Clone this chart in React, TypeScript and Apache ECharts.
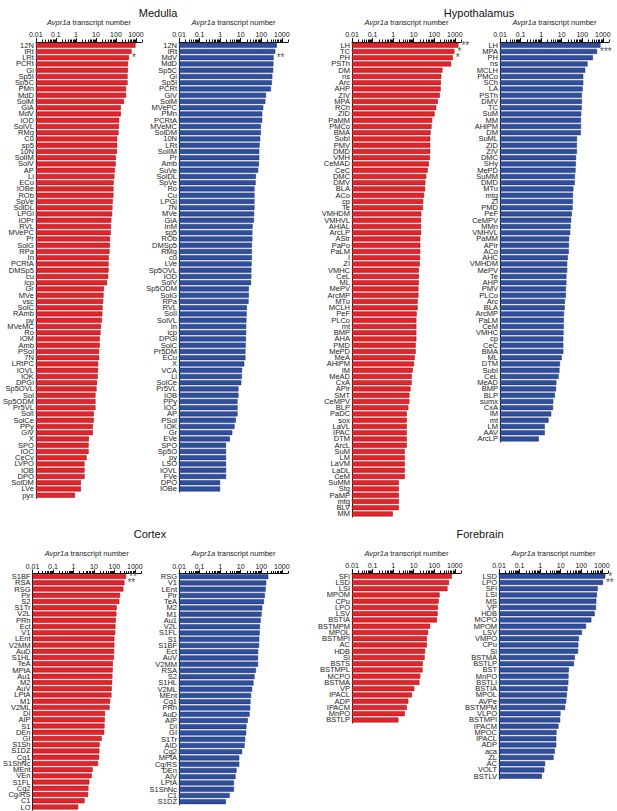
import React, { useEffect, useRef } from 'react';
import * as echarts from 'echarts';

// ---- Medulla ----
const medullaRedLabels = ['12N', 'IRt', 'LRt', 'PCRt', 'Gi', 'Sp5I', 'Sp5C', 'PMn', 'MdD', 'SolM', 'GiA', 'MdV', 'IOD', 'SolVL', 'RMg', 'Cu', 'sp5', '10N', 'SolIM', 'SolV', 'AP', 'Li', 'ECu', 'IOBe', 'ROb', 'SpVe', 'SolDL', 'LPGi', 'IOPr', 'RVL', 'MVePC', 'Pr', 'SolG', 'RPa', 'In', 'PCRtA', 'DMSp5', 'cu', 'icp', 'Gr', 'MVe', 'vsc', 'SolC', 'RAmb', 'py', 'MVeMC', 'Ro', 'IOM', 'Amb', 'PSol', '7N', 'LRtPC', 'IOVL', 'IOK', 'DPGi', 'Sp5OVL', 'Sol', 'Sp5ODM', 'Pr5VL', 'SolI', 'SolCe', 'PPy', 'GiV', 'X', 'SPO', 'IOC', 'CeCv', 'LVPO', 'IOB', 'DPO', 'SolDM', 'LVe', 'pyx'];
const medullaRedValues = [950, 600, 450, 400, 400, 380, 380, 320, 320, 254, 175, 175, 145, 140, 135, 116, 116, 113, 100, 97, 89, 84, 77, 75, 75, 69, 67, 65, 59, 57, 55, 51, 50, 48, 44, 43, 43, 41, 36, 25, 24, 23, 21.5, 21, 20, 18, 17, 15.5, 15.5, 14.5, 14.5, 13, 12.7, 12.3, 11.4, 10.8, 9.5, 9.5, 9.5, 7.8, 7.8, 7, 7, 4.5, 4.3, 4.3, 3.4, 2.7, 2.7, 2.7, 1.8, 1.8, 0.9];
const medullaRedStars: [string, string][] = [['LRt', '*']];

const medullaBlueLabels = ['12N', 'IRt', 'MdV', 'MdD', 'Sp5C', 'Gi', 'Sp5I', 'PCRt', 'GiV', 'SolM', 'MVePC', 'PMn', 'PCRtA', 'MVeMC', 'SolDM', '10N', 'LRt', 'SolIM', 'Pr', 'Amb', 'SuVe', 'SolDL', 'SpVe', 'Ro', 'Cu', 'LPGi', '7N', 'MVe', 'GiA', 'InM', 'sp5', 'ROb', 'DMSp5', 'RMg', 'cu', 'LVe', 'Sp5OVL', 'IOD', 'SolV', 'Sp5ODM', 'SolG', 'RPa', 'RVL', 'SolI', 'SolVL', 'In', 'icp', 'DPGi', 'SolC', 'Pr5DM', 'ECu', 'X', 'VCA', 'Li', 'SolCe', 'Pr5VL', 'IOB', 'PPy', 'IOC', 'AP', 'PSol', 'IOK', 'Gr', 'EVe', 'SPO', 'Sp5O', 'py', 'LSO', 'IOVL', 'FVe', 'DPO', 'IOBe'];
const medullaBlueValues = [580, 480, 400, 390, 380, 345, 330, 295, 170, 158, 125, 112, 112, 96, 96, 89, 83, 80, 80, 78, 71, 55, 53, 47, 47, 47, 47, 45, 44, 38, 37, 37, 35, 35, 35, 34, 33, 33, 32, 25, 25, 24, 20, 19.5, 19, 18.5, 18.5, 18, 17.5, 17, 17, 15, 11.7, 11.4, 10.7, 7.8, 7.8, 7, 7, 7, 5.8, 5, 3.9, 3, 1.95, 1.95, 1.95, 1.95, 1.95, 1.95, 1.0, 1.0];
const medullaBlueStars: [string, string][] = [['MdV', '**']];

// ---- Hypothalamus ----
const hypoRedLabels = ['LH', 'TC', 'PH', 'PSTh', 'DM', 'ns', 'Arc', 'AHP', 'ZIV', 'MPA', 'RCh', 'ZID', 'PaMM', 'PMCo', 'BMA', 'SubI', 'PMV', 'DMD', 'VMH', 'CeMAD', 'CeC', 'DMC', 'DMV', 'BLA', 'ACo', 'cp', 'Te', 'VMHDM', 'VMHVL', 'AHiAL', 'ArcLP', 'AStr', 'PaPo', 'PaLM', 'I', 'ZI', 'VMHC', 'CeL', 'ML', 'MePV', 'ArcMP', 'MTu', 'MCLH', 'PeF', 'PLCo', 'mt', 'BMP', 'AHA', 'PMD', 'MePD', 'MeA', 'AHiPM', 'IM', 'MeAD', 'CxA', 'APir', 'SMT', 'CeMPV', 'BLP', 'PaDC', 'sox', 'LaVL', 'IPAC', 'DTM', 'ArcL', 'SuM', 'LM', 'LaVM', 'LaDL', 'CeM', 'SuMM', 'Stg', 'PaMP', 'mtg', 'BLV', 'MM'];
const hypoRedValues = [1500, 960, 800, 660, 250, 220, 210, 205, 187, 150, 125, 104, 80, 74, 66, 64, 64, 64, 62, 55, 48, 41, 37, 36, 32, 29, 28, 23.5, 23, 23, 23, 21, 21, 21, 20.5, 20, 18, 18, 17.6, 17, 17, 15.6, 15.6, 14, 13.5, 13.5, 13.5, 13.5, 12.5, 12.5, 11.2, 10.4, 9, 8, 8, 7, 6.2, 6.2, 5.5, 4.6, 4.6, 4.6, 4.6, 4.6, 4.6, 3.7, 3.7, 3.7, 3.7, 3.7, 1.9, 1.9, 1.9, 1.9, 1.9, 0.96];
const hypoRedStars: [string, string][] = [['LH', '**'], ['TC', '*'], ['PH', '*']];

const hypoBlueLabels = ['LH', 'MPA', 'PH', 'ns', 'MCLH', 'PMCo', 'SCh', 'LA', 'PSTh', 'DMV', 'TC', 'SuM', 'MM', 'AHiPM', 'DM', 'SuML', 'ZID', 'ZIV', 'DMC', 'SHy', 'MePD', 'SuMM', 'DMD', 'MTu', 'mtg', 'ZI', 'PMD', 'PeF', 'CeMPV', 'MMn', 'VMHVL', 'PaMM', 'APir', 'ACo', 'AHC', 'VMHDM', 'MePV', 'Te', 'AHP', 'PMV', 'PLCo', 'Arc', 'BLA', 'ArcMP', 'PaLM', 'CeM', 'VMHC', 'cp', 'CeC', 'BMA', 'ML', 'DTM', 'SubI', 'CeL', 'MeAD', 'BMP', 'BLP', 'sumx', 'CxA', 'IM', 'mt', 'LM', 'AAV', 'ArcLP'];
const hypoBlueValues = [770, 525, 330, 182, 140, 112, 112, 104, 96, 96, 94, 89, 87, 87, 85, 56, 55, 55, 50, 49, 47, 44, 43, 37, 35, 35, 34, 31, 29, 27, 26, 23, 22.5, 22, 20, 18.5, 18.5, 17, 17, 16, 16, 14.5, 14, 13, 12.7, 12.7, 12.3, 12, 12, 12, 10, 8.3, 7.8, 7.1, 5.5, 5.3, 4.7, 3.9, 3.8, 3.1, 2.3, 1.5, 1.5, 0.77];
const hypoBlueStars: [string, string][] = [['MPA', '***']];

// ---- Cortex ----
const cortexRedLabels = ['S1BF', 'RSA', 'RSG', 'Pir', 'S2', 'S1Tr', 'V2L', 'PRh', 'Ect', 'V1', 'LEnt', 'V2MM', 'AuD', 'S1HL', 'TeA', 'MPtA', 'Au1', 'M2', 'AuV', 'LPtA', 'M1', 'V2ML', 'DI', 'AIP', 'S1', 'DEn', 'GI', 'S1Sh', 'S1DZ', 'Cg1', 'S1ShNc', 'MEnt', 'VEn', 'S1FL', 'Cg2', 'Cg/RS', 'C1', 'LO'];
const cortexRedValues = [370, 310, 275, 190, 175, 130, 125, 117, 113, 110, 100, 100, 98, 95, 85, 83, 80, 78, 74, 72, 62, 58, 35, 34, 33, 32, 24, 19, 18.5, 18, 16, 8.7, 7.8, 6, 5.4, 5.2, 3.5, 1.7];
const cortexRedStars: [string, string][] = [['S1BF', '**'], ['RSA', '**']];

const cortexBlueLabels = ['RSG', 'V1', 'LEnt', 'Pir', 'TeA', 'M2', 'M1', 'Au1', 'V2L', 'S1FL', 'S1', 'S1BF', 'Ect', 'AuV', 'V2MM', 'RSA', 'S2', 'S1HL', 'V2ML', 'MEnt', 'Cg1', 'PRh', 'AuD', 'AIP', 'DI', 'GI', 'S1Tr', 'AID', 'Cg2', 'MPtA', 'Cg/RS', 'DEn', 'AIV', 'LPtA', 'S1ShNc', 'C1', 'S1DZ'];
const cortexBlueValues = [220, 175, 163, 150, 135, 112, 104, 93, 86, 84, 80, 78, 71, 70, 70, 55, 47, 42, 36, 32, 30, 29, 27, 22, 19, 18.5, 16.6, 15.5, 11.8, 8.5, 8.5, 6.3, 5.6, 4.7, 4.7, 2.9, 1.9];
const cortexBlueStars: [string, string][] = [];

// ---- Forebrain ----
const foreRedLabels = ['SFi', 'LSD', 'LSI', 'MPOM', 'CPu', 'LPO', 'LSV', 'BSTIA', 'BSTMPM', 'MPOL', 'BSTMPI', 'AC', 'HDB', 'SI', 'BSTS', 'BSTMPL', 'MCPO', 'BSTMA', 'VP', 'IPACL', 'ADP', 'IPACM', 'MnPO', 'BSTLP'];
const foreRedValues = [710, 525, 440, 182, 163, 150, 145, 135, 63, 50, 44, 44, 36, 34, 27.5, 27, 21, 19, 10.7, 8.3, 5.5, 4.7, 3.7, 1.8];
const foreRedStars: [string, string][] = [];

const foreBlueLabels = ['LSD', 'LPO', 'SFi', 'LSI', 'MS', 'VP', 'HDB', 'MCPO', 'MPOM', 'LSV', 'VMPO', 'CPu', 'SI', 'BSTMA', 'BSTLP', 'BST', 'MnPO', 'BSTLI', 'BSTIA', 'MPOL', 'AVPe', 'BSTMPM', 'VLPO', 'BSTMPI', 'IPACM', 'MPOC', 'IPACL', 'ADP', 'aca', 'ZL', 'AC', 'VOLT', 'BSTLV'];
const foreBlueValues = [1480, 1140, 630, 580, 540, 520, 450, 310, 170, 107, 77, 72, 70, 49, 44, 25, 24, 23.5, 21.5, 20, 18.5, 16.5, 9.8, 9.5, 7.8, 6.3, 6.1, 6.1, 5.2, 4.5, 1.75, 1.6, 1.2];
const foreBlueStars: [string, string][] = [['LSD', '*'], ['LPO', '**']];

const regionTitles = ['Medulla', 'Hypothalamus', 'Cortex', 'Forebrain'];

const AXIS_MIN = 0.01;
const AXIS_MAX = 2000;
const FONT = '"Liberation Sans", Arial, Helvetica, sans-serif';
const RED = '#e4232a';
const RED_EDGE = '#8a1519';
const BLUE = '#2f4f9e';
const BLUE_EDGE = '#1a2c63';
const ROW = 6.25;
const AXIS_W = 109;

type Panel = {
  labels: string[];
  values: number[];
  stars: [string, string][];
  color: string;
  edge: string;
  left: number;
  top: number;
};

const panels: Panel[] = [
  { labels: medullaRedLabels, values: medullaRedValues, stars: medullaRedStars, color: RED, edge: RED_EDGE, left: 33, top: 42 },
  { labels: medullaBlueLabels, values: medullaBlueValues, stars: medullaBlueStars, color: BLUE, edge: BLUE_EDGE, left: 179, top: 42 },
  { labels: hypoRedLabels, values: hypoRedValues, stars: hypoRedStars, color: RED, edge: RED_EDGE, left: 352, top: 42 },
  { labels: hypoBlueLabels, values: hypoBlueValues, stars: hypoBlueStars, color: BLUE, edge: BLUE_EDGE, left: 500, top: 42 },
  { labels: cortexRedLabels, values: cortexRedValues, stars: cortexRedStars, color: RED, edge: RED_EDGE, left: 32, top: 573.5 },
  { labels: cortexBlueLabels, values: cortexBlueValues, stars: cortexBlueStars, color: BLUE, edge: BLUE_EDGE, left: 179, top: 573.5 },
  { labels: foreRedLabels, values: foreRedValues, stars: foreRedStars, color: RED, edge: RED_EDGE, left: 352, top: 573 },
  { labels: foreBlueLabels, values: foreBlueValues, stars: foreBlueStars, color: BLUE, edge: BLUE_EDGE, left: 499, top: 573 },
];

const titlePlacement = [
  { x: 158, y: 7 },
  { x: 479, y: 7 },
  { x: 150, y: 528 },
  { x: 480, y: 528 },
];

// log-decade minor ticks (2..9 x 10^k), expressed as log10 positions
const minorTickLogs: number[] = [];
for (let e = -2; e <= 3; e++) {
  for (let m = 2; m <= 9; m++) {
    const v = m * Math.pow(10, e);
    if (v <= AXIS_MAX) minorTickLogs.push(Math.log10(v));
  }
}

function buildOption(): echarts.EChartsOption {
  const lineStyle = { color: '#111', width: 1 };
  return {
    animation: false,
    backgroundColor: '#fff',
    title: regionTitles.map((t, i) => ({
      text: t,
      left: titlePlacement[i].x,
      top: titlePlacement[i].y,
      textAlign: 'center',
      padding: 0,
      textStyle: { fontSize: 11, fontWeight: 'normal', color: '#111', fontFamily: FONT },
    })),
    grid: panels.map((p) => ({
      left: p.left,
      top: p.top,
      width: AXIS_W,
      height: p.labels.length * ROW,
      containLabel: false,
    })),
    xAxis: panels.flatMap((p, i) => [
      {
        type: 'log',
        logBase: 10,
        gridIndex: i,
        min: AXIS_MIN,
        max: AXIS_MAX,
        startValue: AXIS_MIN,
        position: 'top',
        name: '{i|Avpr1a} transcript number',
        nameLocation: 'middle',
        nameGap: 16,
        nameTextStyle: {
          fontSize: 7.5,
          color: '#222',
          fontFamily: FONT,
          rich: { i: { fontStyle: 'italic', fontSize: 7.5, color: '#222', fontFamily: FONT } },
        },
        axisLine: { show: true, onZero: false, lineStyle },
        axisTick: { show: true, length: 4, lineStyle },
        axisLabel: {
          fontSize: 7,
          margin: 4,
          color: '#111',
          fontFamily: FONT,
          showMaxLabel: false,
          formatter: (v: number) => String(Number(v.toPrecision(6))),
        },
        splitLine: { show: false },
      },
      {
        type: 'value',
        gridIndex: i,
        min: -2,
        max: Math.log10(AXIS_MAX),
        position: 'top',
        axisLine: { show: false, onZero: false },
        axisLabel: { show: false },
        axisTick: { show: true, length: 2.5, lineStyle, customValues: minorTickLogs },
        splitLine: { show: false },
      },
    ]) as any,
    yAxis: panels.map((p, i) => ({
      type: 'category',
      gridIndex: i,
      data: p.labels,
      inverse: true,
      axisLine: { show: true, onZero: false, lineStyle },
      axisTick: { show: false },
      axisLabel: {
        interval: 0,
        fontSize: 7.5,
        lineHeight: 6,
        margin: 2,
        color: '#222',
        fontFamily: FONT,
      },
    })),
    series: panels.map((p, i) => {
      const starMap = new Map(p.stars);
      return {
        type: 'bar',
        xAxisIndex: 2 * i,
        yAxisIndex: i,
        data: p.values,
        barCategoryGap: '20%',
        itemStyle: { color: p.color, borderColor: p.edge, borderWidth: 0.5 },
        label: {
          show: true,
          position: 'right',
          distance: 3,
          fontSize: 10,
          lineHeight: 6,
          color: '#555',
          fontFamily: FONT,
          formatter: (prm: any) => starMap.get(prm.name) || '',
        },
      };
    }) as any,
  };
}

export default function App() {
  const ref = useRef<HTMLDivElement>(null);
  useEffect(() => {
    document.body.style.margin = '0';
    if (!ref.current) return;
    const chart = echarts.init(ref.current, undefined, { renderer: 'svg' });
    chart.setOption(buildOption());
    return () => chart.dispose();
  }, []);
  return <div ref={ref} style={{ width: 617, height: 811 }} />;
}
